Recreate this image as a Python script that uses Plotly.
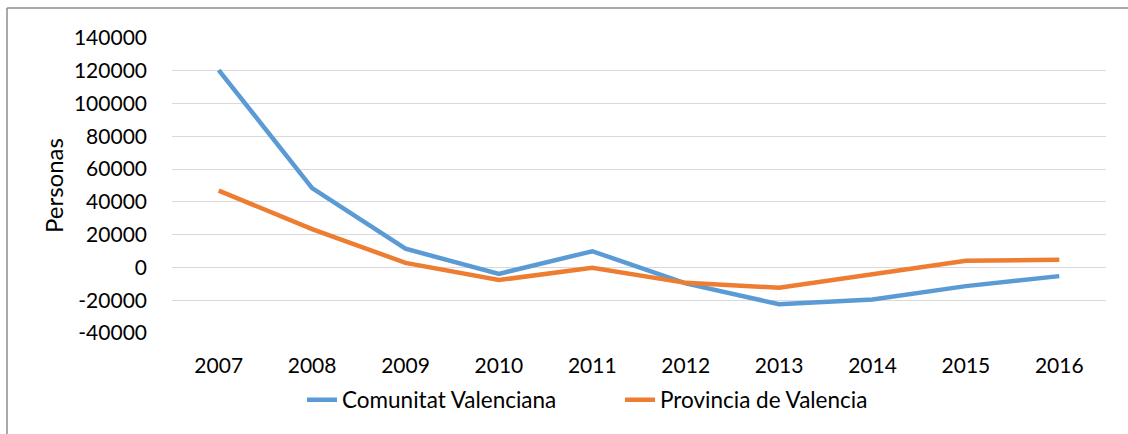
import plotly.graph_objects as go

years = ["2007", "2008", "2009", "2010", "2011", "2012", "2013", "2014", "2015", "2016"]
comunitat = [120400, 48400, 11400, -3900, 9900, -9700, -22500, -19500, -11400, -5300]
provincia = [46900, 23400, 2800, -7700, -200, -9400, -12400, -4000, 4100, 4700]
ytick_vals = [-40000, -20000, 0, 20000, 40000, 60000, 80000, 100000, 120000, 140000]
ytick_text = ["-40000", "-20000", "0", "20000", "40000", "60000", "80000", "100000", "120000", "140000"]

FONT = "Lato"
fig = go.Figure()
fig.add_trace(go.Scatter(x=years, y=comunitat, mode="lines", name="Comunitat Valenciana",
                         line=dict(color="#5B9BD5", width=4.5), legend="legend"))
fig.add_trace(go.Scatter(x=years, y=provincia, mode="lines", name="Provincia de Valencia",
                         line=dict(color="#ED7D31", width=4.5), legend="legend2"))

L, R, T, B = 172, 22, 38, 101
W, H = 1128, 434
pw, ph = W - L - R, H - T - B

def px(x):
    return (x - L) / pw

def py(y):
    return (H - B - y) / ph

fig.update_layout(
    width=W, height=H,
    margin=dict(l=L, r=R, t=T, b=B),
    paper_bgcolor="white", plot_bgcolor="white",
    font=dict(family=FONT, size=21, color="#000000"),
    showlegend=True,
    legend=dict(orientation="h", x=px(302), xanchor="left", y=py(400), yanchor="middle",
                font=dict(family=FONT, size=22.5, color="#000000"), bgcolor="rgba(0,0,0,0)"),
    legend2=dict(orientation="h", x=px(620), xanchor="left", y=py(400), yanchor="middle",
                 font=dict(family=FONT, size=22.5, color="#000000"), bgcolor="rgba(0,0,0,0)"),
    xaxis=dict(type="category", range=[-0.5, 9.5], showgrid=False, zeroline=False,
               showline=False, ticks="", ticklabelstandoff=18,
               tickfont=dict(family=FONT, size=21)),
    yaxis=dict(range=[-40000, 140000], tickvals=ytick_vals, ticktext=ytick_text,
               showgrid=True, gridcolor="#D9D9D9", gridwidth=1.3, zeroline=False,
               showline=False, ticks="", ticklabelstandoff=24,
               tickfont=dict(family=FONT, size=21),
               title=dict(text="Personas", font=dict(family=FONT, size=24), standoff=3)),
    shapes=[
        dict(type="line", xref="paper", yref="paper", x0=px(7), x1=px(1130), y0=py(8), y1=py(8),
             line=dict(color="#8C8C8C", width=1.5)),
        dict(type="line", xref="paper", yref="paper", x0=px(7), x1=px(7), y0=py(8), y1=py(436),
             line=dict(color="#8C8C8C", width=1.5)),
    ],
)
fig.write_html("out.html", config={"displayModeBar": False},
               post_script="document.body.style.margin='0';document.body.style.overflow='hidden';")
